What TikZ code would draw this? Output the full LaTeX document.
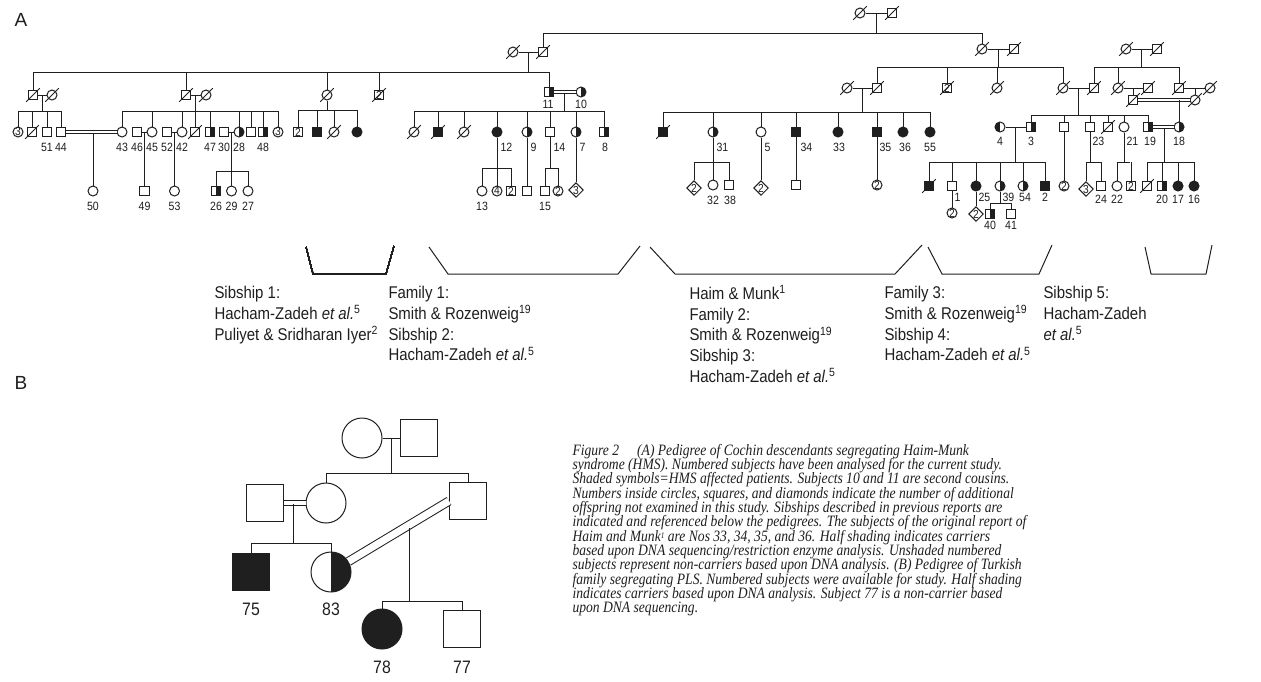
\documentclass[tikz,border=0pt]{standalone}
\usepackage{fontspec}
\setmainfont{Liberation Sans}
\newfontfamily\lf[FakeStretch=0.88]{Liberation Sans}
\newfontfamily\cf[FakeStretch=0.86]{Liberation Serif}
\usetikzlibrary{shapes.geometric}
\newcommand\slsh[1]{\draw ([shift={(-3.4pt,-3.4pt)}]#1.center) -- ([shift={(3.4pt,3.4pt)}]#1.center);}
\newcommand\capsup[1]{\raisebox{1.5pt}{\fontsize{4.3}{4}\selectfont #1}}
\tikzset{
 sym/.style={draw, line width=0.5pt, inner sep=0pt, font=\lf\fontsize{5.8}{6}\selectfont, fill=white},
 sq/.style={sym, rectangle, minimum size=4.8pt},
 ci/.style={sym, circle, minimum size=5pt},
 di/.style={sym, diamond, minimum size=7.4pt},
 aff/.style={fill=black!88},
 hr/.style={path picture={\fill[black!88] (path picture bounding box.north) rectangle (path picture bounding box.south east);}},
 hl/.style={path picture={\fill[black!88] (path picture bounding box.north) rectangle (path picture bounding box.south west);}},
 lab/.style={font=\lf\fontsize{6}{6}\selectfont, inner sep=0pt},
 dbl/.style={double, double distance=1.3pt},
 txt/.style={font=\lf\fontsize{8.5}{10.35}\selectfont, align=left, inner sep=0pt, anchor=north west},
 captxt/.style={font=\cf\itshape\fontsize{7.9}{8}\selectfont, inner sep=0pt, anchor=base west},
 BS/.style={sym, rectangle, minimum size=18.5pt},
 BC/.style={sym, circle, minimum size=20pt},
 blab/.style={font=\lf\fontsize{9}{9}\selectfont, inner sep=0pt},
 panel/.style={font=\fontsize{9.5}{10}\selectfont, inner sep=0pt},
}
\begin{document}
\begin{tikzpicture}[x=0.5pt,y=-0.5pt,line width=0.5pt,color=black!88]
\fill[white] (0,0) rectangle (1261,681);
\useasboundingbox (0,0) rectangle (1261,681);
\node[panel] (lA) at (21,20) {A};
\node[panel] (lB) at (21,383) {B};
% ===== Generation I =====
\node[ci] (g1c) at (860,13) {};
\node[sq] (g1s) at (892,13) {};
\draw (g1c) -- (g1s);
\draw (876,13) -- (876,33);
\draw (543,33) -- (982,33);
% ===== Generation II =====
\node[ci] (aC) at (513,52) {};
\node[sq] (aS) at (543,52) {};
\node[ci] (bC) at (982,49) {};
\node[sq] (bS) at (1014,49) {};
\draw (543,33) -- (aS.north);
\draw (aC) -- (aS);
\draw (528,52) -- (528,72);
\draw (982,33) -- (bC.north);
\draw (bC) -- (bS);
\draw (998,49) -- (998,67);
\draw (877,67) -- (1063,67);
% ===== Generation III left =====
\draw (33,72) -- (549,72);
\node[sq] (c1S) at (33,95) {};
\node[ci] (c1C) at (52,95) {};
\draw (33,72) -- (c1S.north);
\draw (c1S) -- (c1C);
\draw (42.5,95) -- (42.5,111);
\node[sq] (c2S) at (186,95) {};
\node[ci] (c2C) at (206,95) {};
\draw (186,72) -- (c2S.north);
\draw (c2S) -- (c2C);
\draw (195,95) -- (195,111);
\node[ci] (c3C) at (327,95) {};
\draw (327,72) -- (c3C.north);
\draw (c3C.south) -- (327,110);
\node[sq] (c4S) at (379,95) {2};
\draw (379,72) -- (c4S.north);
\node[sq,hr] (n11) at (549,92) {};
\node[ci,hr] (n10) at (581,92) {};
\draw (549,72) -- (n11.north);
\draw[dbl] (n11) -- (n10);
\draw (564,93.5) -- (564,111);
\node[lab] at (548,104) {11};
\node[lab] at (581,104) {10};
% ===== Generation III right =====
\node[ci] (dC) at (847,88) {};
\node[sq] (dS) at (877,88) {};
\draw (877,67) -- (dS.north);
\draw (dC) -- (dS);
\draw (862,88) -- (862,112);
\node[sq] (e2) at (947,88) {2};
\draw (947,67) -- (e2.north);
\node[ci] (eC) at (997,88) {};
\draw (997,67) -- (eC.north);
\node[ci] (fC) at (1063,88) {};
\node[sq] (fS) at (1094,88) {};
\draw (1063,67) -- (fC.north);
\draw (fC) -- (fS);
\draw (1078,88) -- (1078,115);
\node[ci] (gC) at (1126,49) {};
\node[sq] (gS) at (1157,49) {};
\draw (gC) -- (gS);
\draw (1141,49) -- (1141,67);
\draw (1094,67) -- (1179,67);
\draw (1094,67) -- (fS.north);
\node[ci] (hC) at (1118,88) {};
\node[sq] (hS) at (1148,88) {};
\draw (1118,67) -- (hC.north);
\draw (hC) -- (hS);
\node[sq] (iS) at (1179,88) {};
\node[ci] (iC) at (1210,88) {};
\draw (1179,67) -- (iS.north);
\draw (iS) -- (iC);
\node[sq] (jS) at (1133,100) {};
\node[ci] (jC) at (1195,100) {};
\draw (1133,88) -- (jS.north);
\draw (1195,88) -- (jC.north);
\draw[dbl] (jS) -- (jC);
% ===== Generation IV far left =====
\draw (18,111) -- (61,111);
\node[ci] (c3a) at (18,132) {3};
\node[sq] (dq1) at (32,132) {};
\node[sq] (n51) at (47,132) {};
\node[sq] (n44) at (61,132) {};
\foreach \n/\x in {c3a/18,dq1/32,n51/47,n44/61} \draw (\x,111) -- (\n.north);
\node[ci] (n43) at (122,132) {};
\draw[dbl] (n44) -- (n43);
\node[ci] (n50) at (93,191) {};
\draw (93,133) -- (n50.north);
\draw (122,111) -- (278,111);
\node[sq] (n46) at (137,132) {};
\node[ci] (n45) at (152,132) {};
\node[sq] (n52) at (167,132) {};
\node[ci] (n42) at (182,132) {};
\node[sq] (dq2) at (195,132) {};
\node[sq,hr] (n47) at (210,132) {};
\node[sq] (n30) at (224,132) {};
\node[ci,hr] (n28) at (239,132) {};
\node[sq] (sqA) at (251,132) {};
\node[sq,hr] (n48) at (263,132) {};
\node[ci] (c3b) at (278,132) {3};
\foreach \n/\x in {n43/122,n45/152,n42/182,dq2/195,n47/210,n28/239,sqA/251,n48/263,c3b/278} \draw (\x,111) -- (\n.north);
\draw (n46) -- (n45);
\draw (n52) -- (n42);
\draw (n30) -- (n28);
\node[sq] (n49) at (144.5,191) {};
\node[ci] (n53) at (174.5,191) {};
\draw (144.5,132) -- (n49.north);
\draw (174.5,132) -- (n53.north);
\draw (231.5,132) -- (231.5,171);
\draw (216,171) -- (248,171);
\node[sq,hr] (n26) at (216,191) {};
\node[ci] (n29) at (231.5,191) {};
\node[ci] (n27) at (248,191) {};
\foreach \n/\x in {n26/216,n29/231.5,n27/248} \draw (\x,171) -- (\n.north);
\foreach \t/\x in {51/47,44/61,43/122,46/137,45/152,52/167,42/182,47/210,30/224,28/239,48/263} \node[lab] at (\x,147) {\t};
\foreach \t/\x in {50/93,49/144.5,53/174.5,26/216,29/231.5,27/248} \node[lab] at (\x,206) {\t};
% ===== under c3C =====
\draw (298,110) -- (357,110);
\node[sq] (s2c) at (298,132) {2};
\node[sq,aff] (sfa) at (317,132) {};
\node[ci] (dcc) at (334,132) {};
\node[ci,aff] (cfa) at (357,132) {};
\foreach \n/\x in {s2c/298,sfa/317,dcc/334,cfa/357} \draw (\x,110) -- (\n.north);
% ===== Family 1 =====
\draw (414,111) -- (604,111);
\node[ci] (f1a) at (414,132) {};
\node[sq,aff] (f1b) at (438,132) {};
\node[ci] (f1c) at (464,132) {};
\node[ci,aff] (n12) at (497,132) {};
\node[ci,hr] (n9) at (527,132) {};
\node[sq] (n14) at (550,132) {};
\node[ci,hr] (n7) at (576,132) {};
\node[sq,hr] (n8) at (604,132) {};
\foreach \n/\x in {f1a/414,f1b/438,f1c/464,n12/497,n9/527,n14/550,n7/576,n8/604} \draw (\x,111) -- (\n.north);
\node[lab,anchor=west] at (500,147) {12};
\node[lab,anchor=west] at (530,147) {9};
\node[lab,anchor=west] at (553,147) {14};
\node[lab,anchor=west] at (579,147) {7};
\node[lab] at (605,147) {8};
\draw (482,168) -- (511,168);
\node[ci] (n13) at (482,191) {};
\node[ci] (c4a) at (497,191) {4};
\node[sq] (s2a) at (511,191) {2};
\draw (n12.south) -- (c4a.north);
\draw (482,168) -- (n13.north);
\draw (511,168) -- (s2a.north);
\node[sq] (sq9) at (527,191) {};
\draw (n9.south) -- (sq9.north);
\draw (n14.south) -- (550,168);
\draw (545,168) -- (558,168);
\node[sq] (n15) at (545,191) {};
\node[ci] (c2a) at (558,191) {2};
\draw (545,168) -- (n15.north);
\draw (558,168) -- (c2a.north);
\node[di] (d3a) at (576,190) {3};
\draw (n7.south) -- (d3a.north);
\node[lab] at (482,206) {13};
\node[lab] at (545,206) {15};
% ===== Family 2 =====
\draw (663,112) -- (930,112);
\node[sq,aff] (f2a) at (663,132) {};
\node[ci,hr] (n31) at (713,132) {};
\node[ci] (n5) at (761,132) {};
\node[sq,aff] (n34) at (796,132) {};
\node[ci,aff] (n33) at (838,132) {};
\node[sq,aff] (n35) at (877,132) {};
\node[ci,aff] (n36) at (903,132) {};
\node[ci,aff] (n55) at (930,132) {};
\foreach \n/\x in {f2a/663,n31/713,n5/761,n34/796,n33/838,n35/877,n36/903,n55/930} \draw (\x,112) -- (\n.north);
\node[lab,anchor=west] at (716,147) {31};
\node[lab,anchor=west] at (764,147) {5};
\node[lab,anchor=west] at (800,147) {34};
\node[lab] at (839,147) {33};
\node[lab,anchor=west] at (879,147) {35};
\node[lab] at (905,147) {36};
\node[lab] at (930,147) {55};
\draw (694,162) -- (729,162);
\node[di] (d2a) at (694,188) {2};
\node[ci] (n32) at (713,185) {};
\node[sq] (n38) at (729,185) {};
\draw (n31.south) -- (n32.north);
\draw (694,162) -- (d2a.north);
\draw (729,162) -- (n38.north);
\node[lab] at (713,200) {32};
\node[lab] at (730,200) {38};
\node[di] (d2b) at (761,188) {2};
\draw (n5.south) -- (d2b.north);
\node[sq] (sq34) at (796,185) {};
\draw (n34.south) -- (sq34.north);
\node[ci] (c2b) at (877,185) {2};
\draw (n35.south) -- (c2b.north);
% ===== Family 3 =====
\draw (1031,115) -- (1148,115);
\node[ci,hl] (n4) at (1000,127) {};
\node[sq,hr] (n3) at (1031,127) {};
\node[sq] (s64) at (1064,127) {};
\node[sq] (n23) at (1090,127) {};
\node[sq] (dq3) at (1108,127) {};
\node[ci] (n21) at (1124,127) {};
\node[sq,hr] (n19) at (1148,127) {};
\node[ci,hr] (n18) at (1179,127) {};
\foreach \n/\x in {n3/1031,s64/1064,n23/1090,dq3/1108,n21/1124,n19/1148} \draw (\x,115) -- (\n.north);
\draw (1179,100) -- (n18.north);
\draw (n4) -- (n3);
\draw[dbl] (n19) -- (n18);
\draw (1015.5,127) -- (1015.5,162);
\draw (1164,128.5) -- (1164,162);
\node[lab] at (1000,141) {4};
\node[lab] at (1031,141) {3};
\node[lab,anchor=west] at (1092,141) {23};
\node[lab,anchor=west] at (1126,141) {21};
\node[lab] at (1150,141) {19};
\node[lab] at (1179,141) {18};
% sibship 4
\draw (929,162) -- (1045,162);
\node[sq,aff] (a1) at (929,186) {};
\node[sq] (n1) at (952,186) {};
\node[ci,aff] (n25) at (976,186) {};
\node[ci,hr] (n39) at (1000,186) {};
\node[ci,hr] (n54) at (1023,186) {};
\node[sq,aff] (n2) at (1045,186) {};
\foreach \n/\x in {a1/929,n1/952,n25/976,n39/1000,n54/1023,n2/1045} \draw (\x,162) -- (\n.north);
\node[lab,anchor=west] at (954,197) {1};
\node[lab,anchor=west] at (978,197) {25};
\node[lab,anchor=west] at (1002,197) {39};
\node[lab] at (1025,197) {54};
\node[lab] at (1045,197) {2};
\node[ci] (c2c) at (952,213) {2};
\draw (n1.south) -- (c2c.north);
\node[di] (d2c) at (976,214) {2};
\draw (n25.south) -- (d2c.north);
\draw (n39.south) -- (1000,203);
\draw (990,203) -- (1011,203);
\node[sq,hr] (n40) at (990,214) {};
\node[sq] (n41) at (1011,214) {};
\draw (990,203) -- (n40.north);
\draw (1011,203) -- (n41.north);
\node[lab] at (990,225) {40};
\node[lab] at (1011,225) {41};
\node[ci] (c2d) at (1064,186) {2};
\draw (s64.south) -- (c2d.north);
\draw (n23.south) -- (1090,162);
\draw (1086,162) -- (1101,162);
\node[di] (d3b) at (1086,189) {3};
\node[sq] (n24) at (1101,186) {};
\draw (1086,162) -- (d3b.north);
\draw (1101,162) -- (n24.north);
\draw (n21.south) -- (1124,162);
\draw (1117,162) -- (1130,162);
\node[ci] (n22) at (1117,186) {};
\node[sq] (s2b) at (1131,186) {2};
\draw (1117,162) -- (n22.north);
\draw (1131,162) -- (s2b.north);
\node[lab] at (1101,199) {24};
\node[lab] at (1117,199) {22};
% sibship 5
\draw (1147,162) -- (1194,162);
\node[sq] (dq5) at (1147,186) {};
\node[sq,hr] (n20) at (1162,186) {};
\node[ci,aff] (n17) at (1178,186) {};
\node[ci,aff] (n16) at (1194,186) {};
\foreach \n/\x in {dq5/1147,n20/1162,n17/1178,n16/1194} \draw (\x,162) -- (\n.north);
\node[lab] at (1162,199) {20};
\node[lab] at (1178,199) {17};
\node[lab] at (1194,199) {16};
% ===== deceased slashes =====
\foreach \n in {g1c,g1s,aC,aS,bC,bS,c1S,c1C,c2S,c2C,c3C,c4S,dC,dS,e2,eC,fC,fS,gC,gS,hC,hS,iS,iC,jS,jC,dq1,dq2,dcc,f1a,f1b,f1c,f2a,a1,dq3,dq5} \slsh{\n}
% ===== brackets =====
\draw (306,247) -- (313,274) -- (386,274) -- (394,246);
\draw (429,247) -- (448,274) -- (618,274) -- (640,246);
\draw (650,247) -- (675,274) -- (895,274) -- (922,245);
\draw (928,247) -- (942,274) -- (1039,274) -- (1052,245);
\draw (1145,247) -- (1151,274) -- (1206,274) -- (1212,245);
\node[txt] (t1) at (214,286) {Sibship 1:\\Hacham-Zadeh \textit{et al.}\textsuperscript{5}\\Puliyet \& Sridharan Iyer\textsuperscript{2}};
\node[txt] (t2) at (388,286) {Family 1:\\Smith \& Rozenweig\textsuperscript{19}\\Sibship 2:\\Hacham-Zadeh \textit{et al.}\textsuperscript{5}};
\node[txt] (t3) at (689,285) {Haim \& Munk\textsuperscript{1}\\Family 2:\\Smith \& Rozenweig\textsuperscript{19}\\Sibship 3:\\Hacham-Zadeh \textit{et al.}\textsuperscript{5}};
\node[txt] (t4) at (884,286) {Family 3:\\Smith \& Rozenweig\textsuperscript{19}\\Sibship 4:\\Hacham-Zadeh \textit{et al.}\textsuperscript{5}};
\node[txt] (t5) at (1043,286) {Sibship 5:\\Hacham-Zadeh\\\textit{et al.}\textsuperscript{5}};
% ===== Panel B =====
\node[BC] (bC1) at (362,438) {};
\node[BS] (bS1) at (419,438) {};
\draw (bC1) -- (bS1);
\draw (391,438) -- (391,473);
\draw (326,473) -- (468,473);
\node[BS] (bS2) at (265,503) {};
\node[BC] (bC2) at (326,503) {};
\node[BS] (bS3) at (468,501) {};
\draw (326,473) -- (bC2.north);
\draw (468,473) -- (bS3.north);
\draw[double, double distance=1.6pt] (bS2) -- (bC2);
\draw (293,504) -- (293,543);
\draw (251,543) -- (331,543);
\node[BS,aff] (n75) at (251,572) {};
\node[BC,hr] (n83) at (331,572) {};
\draw (251,543) -- (n75.north);
\draw (331,543) -- (n83.north);
\draw[double, double distance=3.6pt] (n83) -- (bS3.west);
\draw (409,528) -- (409,601);
\draw (382,601) -- (462,601);
\node[BC,aff] (n78) at (382,629) {};
\node[BS] (n77) at (462,629) {};
\draw (382,601) -- (n78.north);
\draw (462,601) -- (n77.north);
\node[blab] at (251,609) {75};
\node[blab] at (331,609) {83};
\node[blab] at (382,667) {78};
\node[blab] at (462,667) {77};
% ===== caption =====
\node[captxt] (cp1) at (572,455) {Figure 2\hspace{9pt}(A) Pedigree of Cochin descendants segregating Haim-Munk};
\node[captxt] (cp2) at (572,469.3) {syndrome (HMS). Numbered subjects have been analysed for the current study.};
\node[captxt] (cp3) at (572,483.7) {Shaded symbols=HMS affected patients. Subjects 10 and 11 are second cousins.};
\node[captxt] (cp4) at (572,498) {Numbers inside circles, squares, and diamonds indicate the number of additional};
\node[captxt] (cp5) at (572,512.3) {offspring not examined in this study. Sibships described in previous reports are};
\node[captxt] (cp6) at (572,526.7) {indicated and referenced below the pedigrees. The subjects of the original report of};
\node[captxt] (cp7) at (572,541) {Haim and Munk\capsup{1} are Nos 33, 34, 35, and 36. Half shading indicates carriers};
\node[captxt] (cp8) at (572,555.3) {based upon DNA sequencing/restriction enzyme analysis. Unshaded numbered};
\node[captxt] (cp9) at (572,569.7) {subjects represent non-carriers based upon DNA analysis. (B) Pedigree of Turkish};
\node[captxt] (cp10) at (572,584) {family segregating PLS. Numbered subjects were available for study. Half shading};
\node[captxt] (cp11) at (572,598.3) {indicates carriers based upon DNA analysis. Subject 77 is a non-carrier based};
\node[captxt] (cp12) at (572,612.7) {upon DNA sequencing.};
\end{tikzpicture}
\end{document}
